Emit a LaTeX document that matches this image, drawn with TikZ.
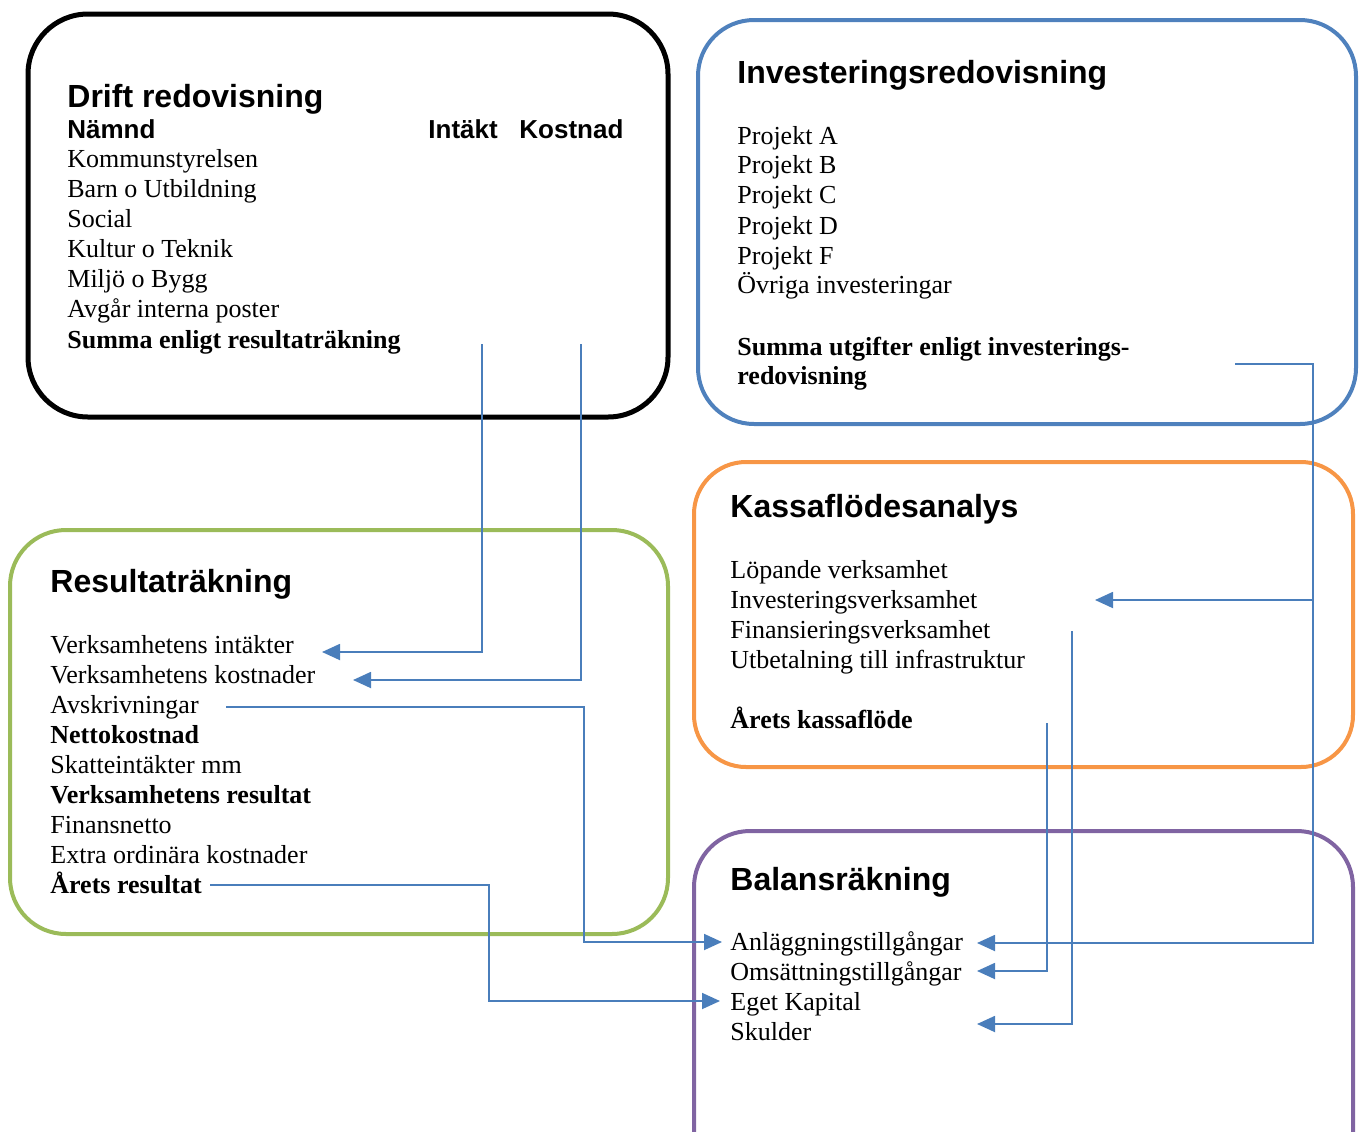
\documentclass[tikz,border=0pt]{standalone}
\usepackage{fontspec}
\setmainfont{Liberation Serif}
\setsansfont{Liberation Sans}
\usetikzlibrary{arrows.meta}
\definecolor{invblue}{HTML}{4F81BD}
\definecolor{resgreen}{HTML}{9BBB59}
\definecolor{kfaorange}{HTML}{F79646}
\definecolor{balpurple}{HTML}{8064A2}
\definecolor{flowblue}{HTML}{4A7EBB}

\begin{document}
\begin{tikzpicture}[x=0.5pt,y=-0.5pt,
	box/.style={rounded corners=28pt,line width=2pt},
	head/.style={anchor=base west,inner sep=0pt,font=\sffamily\bfseries\fontsize{16}{18}\selectfont},
	colhead/.style={anchor=base west,inner sep=0pt,font=\sffamily\bfseries\fontsize{13}{15}\selectfont},
	item/.style={anchor=base west,inner sep=0pt,font=\fontsize{13}{15}\selectfont},
	total/.style={anchor=base west,inner sep=0pt,font=\bfseries\fontsize{13}{15}\selectfont},
	flow/.style={draw=flowblue,line width=0.9pt,-{Triangle[length=9pt,width=8pt]}}]
		\useasboundingbox (0,0) rectangle (1361,1131);
		\clip (0,0) rectangle (1361,1131);
		%
		% boxes
		\draw[box,line width=2.5pt,rounded corners=30pt] (28,14) rectangle (668,417);
		\draw[box,invblue] (698,20) rectangle (1356,424);
		\draw[box,resgreen] (10,530) rectangle (668,934);
		\draw[box,kfaorange,rounded corners=26pt] (694,462) rectangle (1353,767);
		\draw[box,balpurple] (694,831) rectangle (1353,1190);
		%
		% Drift redovisning
		\node[head] (drH) at (67,107) {Drift redovisning};
		\node[colhead] (drN) at (67,138) {Nämnd};
		\node[colhead] (drI) at (428,138) {Intäkt};
		\node[colhead] (drK) at (519,138) {Kostnad};
		\node[item] (dr1) at (67,167) {Kommunstyrelsen};
		\node[item] (dr2) at (67,197) {Barn o Utbildning};
		\node[item] (dr3) at (67,227) {Social};
		\node[item] (dr4) at (67,257) {Kultur o Teknik};
		\node[item] (dr5) at (67,287) {Miljö o Bygg};
		\node[item] (dr6) at (67,317) {Avgår interna poster};
		\node[total] (drS) at (67,348) {Summa enligt resultaträkning};
		%
		% Investeringsredovisning
		\node[head] (inH) at (737,83) {Investeringsredovisning};
		\node[item] (in1) at (737,144) {Projekt A};
		\node[item] (in2) at (737,173) {Projekt B};
		\node[item] (in3) at (737,203) {Projekt C};
		\node[item] (in4) at (737,234) {Projekt D};
		\node[item] (in5) at (737,264) {Projekt F};
		\node[item] (in6) at (737,293) {Övriga investeringar};
		\node[total] (inS) at (737,355) {Summa utgifter enligt investerings-};
		\node[total] (inS2) at (737,384) {redovisning};
		%
		% Resultaträkning
		\node[head] (reH) at (50,592) {Resultaträkning};
		\node[item] (re1) at (50,653) {Verksamhetens intäkter};
		\node[item] (re2) at (50,683) {Verksamhetens kostnader};
		\node[item] (re3) at (50,713) {Avskrivningar};
		\node[total] (re4) at (50,743) {Nettokostnad};
		\node[item] (re5) at (50,773) {Skatteintäkter mm};
		\node[total] (re6) at (50,803) {Verksamhetens resultat};
		\node[item] (re7) at (50,833) {Finansnetto};
		\node[item] (re8) at (50,863) {Extra ordinära kostnader};
		\node[total] (re9) at (50,893) {Årets resultat};
		%
		% Kassaflödesanalys
		\node[head] (kfH) at (730,517) {Kassaflödesanalys};
		\node[item] (kf1) at (730,578) {Löpande verksamhet};
		\node[item] (kf2) at (730,608) {Investeringsverksamhet};
		\node[item] (kf3) at (730,638) {Finansieringsverksamhet};
		\node[item] (kf4) at (730,668) {Utbetalning till infrastruktur};
		\node[total] (kfS) at (730,728) {Årets kassaflöde};
		%
		% Balansräkning
		\node[head] (baH) at (730,890) {Balansräkning};
		\node[item] (ba1) at (730,950) {Anläggningstillgångar};
		\node[item] (ba2) at (730,980) {Omsättningstillgångar};
		\node[item] (ba3) at (730,1010) {Eget Kapital};
		\node[item] (ba4) at (730,1040) {Skulder};
		%
		% connector ends
		\coordinate (drIout) at (482,344);
		\coordinate (drKout) at (581,344);
		\coordinate (re1in) at (322,652);
		\coordinate (re2in) at (353,680);
		\coordinate (re3out) at (226,707);
		\coordinate (re3bend) at (584,707);
		\coordinate (re9out) at (210,885);
		\coordinate (re9bend) at (489,885);
		\coordinate (inSout) at (1235,364);
		\coordinate (inSbend) at (1313,364);
		\coordinate (kf2in) at (1095,600);
		\coordinate (kf3out) at (1072,631);
		\coordinate (kfSout) at (1047,723);
		\coordinate (ba1inL) at (722,942);
		\coordinate (ba1inR) at (977,943);
		\coordinate (ba2in) at (977,971);
		\coordinate (ba3in) at (720,1001);
		\coordinate (ba4in) at (977,1024);
		%
		% Drift -> Resultat
		\draw[flow] (drIout) |- (re1in);
		\draw[flow] (drKout) |- (re2in);
		% Resultat -> Balans
		\draw[flow] (re3out) -- (re3bend) |- (ba1inL);
		\draw[flow] (re9out) -- (re9bend) |- (ba3in);
		% Investering -> Kassaflöde, Balans
		\draw[flow] (inSout) -- (inSbend) |- (ba1inR);
		\draw[flow] (inSbend |- kf2in) -- (kf2in);
		% Kassaflöde -> Balans
		\draw[flow] (kfSout) |- (ba2in);
		\draw[flow] (kf3out) |- (ba4in);
\end{tikzpicture}
\end{document}
